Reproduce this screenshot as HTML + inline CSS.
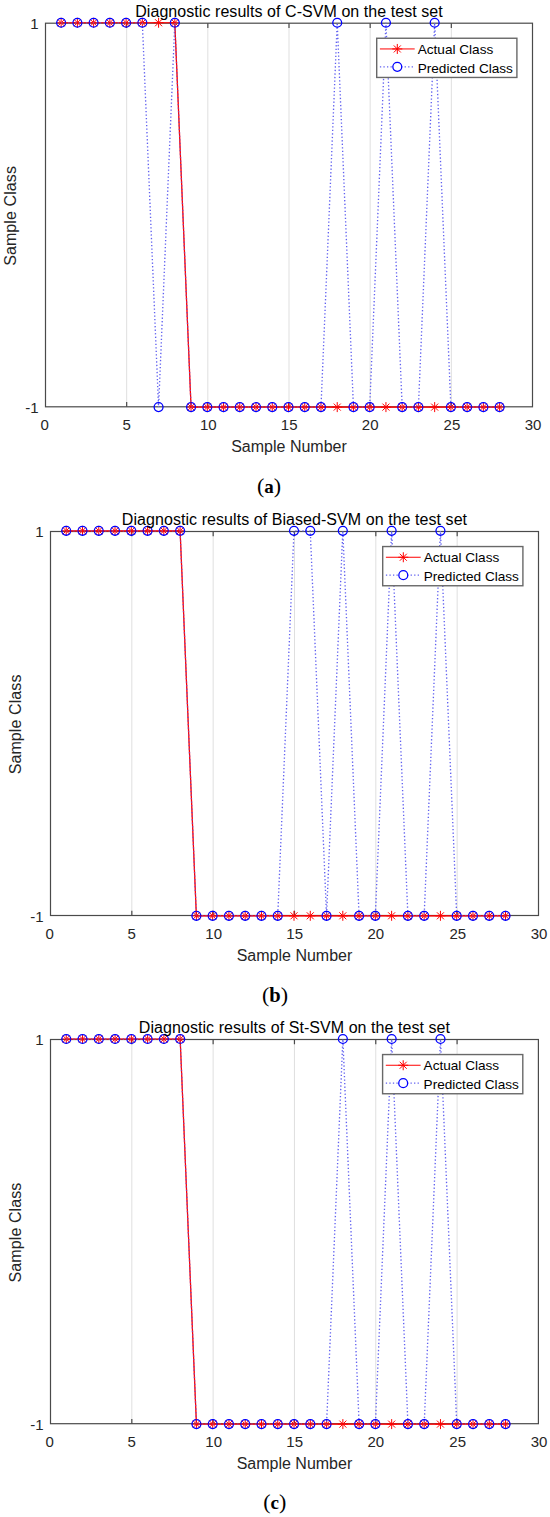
<!DOCTYPE html>
<html><head><meta charset="utf-8"><title>Diagnostic results</title><style>
html,body{margin:0;padding:0;background:#fff;}
svg{display:block;}
text{font-family:'Liberation Sans', sans-serif;}
</style></head><body>
<svg width="550" height="1517" viewBox="0 0 550 1517">
<rect width="550" height="1517" fill="#fff"/>
<line x1="126.67" y1="23.2" x2="126.67" y2="406.8" stroke="#dfdfdf" stroke-width="1"/>
<line x1="207.83" y1="23.2" x2="207.83" y2="406.8" stroke="#dfdfdf" stroke-width="1"/>
<line x1="289" y1="23.2" x2="289" y2="406.8" stroke="#dfdfdf" stroke-width="1"/>
<line x1="370.17" y1="23.2" x2="370.17" y2="406.8" stroke="#dfdfdf" stroke-width="1"/>
<line x1="451.33" y1="23.2" x2="451.33" y2="406.8" stroke="#dfdfdf" stroke-width="1"/>
<path d="M126.67 406.8V402M126.67 23.2V28M207.83 406.8V402M207.83 23.2V28M289 406.8V402M289 23.2V28M370.17 406.8V402M370.17 23.2V28M451.33 406.8V402M451.33 23.2V28" stroke="#4a4a4a" stroke-width="1.2" fill="none"/>
<rect x="45.5" y="23.2" width="487" height="383.6" fill="none" stroke="#4a4a4a" stroke-width="1.2"/>
<polyline points="61.14,22.75 77.38,22.75 93.62,22.75 109.86,22.75 126.1,22.75 142.34,22.75 158.58,22.75 174.82,22.75 191.06,407.1 207.3,407.1 223.54,407.1 239.78,407.1 256.02,407.1 272.26,407.1 288.5,407.1 304.74,407.1 320.98,407.1 337.22,407.1 353.46,407.1 369.7,407.1 385.94,407.1 402.18,407.1 418.42,407.1 434.66,407.1 450.9,407.1 467.14,407.1 483.38,407.1 499.62,407.1" fill="none" stroke="#ff0000" stroke-width="1.2"/>
<path d="M56.14 22.75H66.14M61.14 17.75V27.75M57.64 19.25L64.64 26.25M57.64 26.25L64.64 19.25M72.38 22.75H82.38M77.38 17.75V27.75M73.88 19.25L80.88 26.25M73.88 26.25L80.88 19.25M88.62 22.75H98.62M93.62 17.75V27.75M90.12 19.25L97.12 26.25M90.12 26.25L97.12 19.25M104.86 22.75H114.86M109.86 17.75V27.75M106.36 19.25L113.36 26.25M106.36 26.25L113.36 19.25M121.1 22.75H131.1M126.1 17.75V27.75M122.6 19.25L129.6 26.25M122.6 26.25L129.6 19.25M137.34 22.75H147.34M142.34 17.75V27.75M138.84 19.25L145.84 26.25M138.84 26.25L145.84 19.25M153.58 22.75H163.58M158.58 17.75V27.75M155.08 19.25L162.08 26.25M155.08 26.25L162.08 19.25M169.82 22.75H179.82M174.82 17.75V27.75M171.32 19.25L178.32 26.25M171.32 26.25L178.32 19.25M186.06 407.1H196.06M191.06 402.1V412.1M187.56 403.6L194.56 410.6M187.56 410.6L194.56 403.6M202.3 407.1H212.3M207.3 402.1V412.1M203.8 403.6L210.8 410.6M203.8 410.6L210.8 403.6M218.54 407.1H228.54M223.54 402.1V412.1M220.04 403.6L227.04 410.6M220.04 410.6L227.04 403.6M234.78 407.1H244.78M239.78 402.1V412.1M236.28 403.6L243.28 410.6M236.28 410.6L243.28 403.6M251.02 407.1H261.02M256.02 402.1V412.1M252.52 403.6L259.52 410.6M252.52 410.6L259.52 403.6M267.26 407.1H277.26M272.26 402.1V412.1M268.76 403.6L275.76 410.6M268.76 410.6L275.76 403.6M283.5 407.1H293.5M288.5 402.1V412.1M285 403.6L292 410.6M285 410.6L292 403.6M299.74 407.1H309.74M304.74 402.1V412.1M301.24 403.6L308.24 410.6M301.24 410.6L308.24 403.6M315.98 407.1H325.98M320.98 402.1V412.1M317.48 403.6L324.48 410.6M317.48 410.6L324.48 403.6M332.22 407.1H342.22M337.22 402.1V412.1M333.72 403.6L340.72 410.6M333.72 410.6L340.72 403.6M348.46 407.1H358.46M353.46 402.1V412.1M349.96 403.6L356.96 410.6M349.96 410.6L356.96 403.6M364.7 407.1H374.7M369.7 402.1V412.1M366.2 403.6L373.2 410.6M366.2 410.6L373.2 403.6M380.94 407.1H390.94M385.94 402.1V412.1M382.44 403.6L389.44 410.6M382.44 410.6L389.44 403.6M397.18 407.1H407.18M402.18 402.1V412.1M398.68 403.6L405.68 410.6M398.68 410.6L405.68 403.6M413.42 407.1H423.42M418.42 402.1V412.1M414.92 403.6L421.92 410.6M414.92 410.6L421.92 403.6M429.66 407.1H439.66M434.66 402.1V412.1M431.16 403.6L438.16 410.6M431.16 410.6L438.16 403.6M445.9 407.1H455.9M450.9 402.1V412.1M447.4 403.6L454.4 410.6M447.4 410.6L454.4 403.6M462.14 407.1H472.14M467.14 402.1V412.1M463.64 403.6L470.64 410.6M463.64 410.6L470.64 403.6M478.38 407.1H488.38M483.38 402.1V412.1M479.88 403.6L486.88 410.6M479.88 410.6L486.88 403.6M494.62 407.1H504.62M499.62 402.1V412.1M496.12 403.6L503.12 410.6M496.12 410.6L503.12 403.6" stroke="#ff0000" stroke-width="1" fill="none"/>
<polyline points="61.14,22.75 77.38,22.75 93.62,22.75 109.86,22.75 126.1,22.75 142.34,22.75 158.58,407.1 174.82,22.75 191.06,407.1 207.3,407.1 223.54,407.1 239.78,407.1 256.02,407.1 272.26,407.1 288.5,407.1 304.74,407.1 320.98,407.1 337.22,22.75 353.46,407.1 369.7,407.1 385.94,22.75 402.18,407.1 418.42,407.1 434.66,22.75 450.9,407.1 467.14,407.1 483.38,407.1 499.62,407.1" fill="none" stroke="#6060f0" stroke-width="1.35" stroke-dasharray="1.3 2.23"/>
<circle cx="61.14" cy="22.75" r="4.45" fill="none" stroke="#0000ff" stroke-width="1.3"/>
<circle cx="77.38" cy="22.75" r="4.45" fill="none" stroke="#0000ff" stroke-width="1.3"/>
<circle cx="93.62" cy="22.75" r="4.45" fill="none" stroke="#0000ff" stroke-width="1.3"/>
<circle cx="109.86" cy="22.75" r="4.45" fill="none" stroke="#0000ff" stroke-width="1.3"/>
<circle cx="126.1" cy="22.75" r="4.45" fill="none" stroke="#0000ff" stroke-width="1.3"/>
<circle cx="142.34" cy="22.75" r="4.45" fill="none" stroke="#0000ff" stroke-width="1.3"/>
<circle cx="158.58" cy="407.1" r="4.45" fill="none" stroke="#0000ff" stroke-width="1.3"/>
<circle cx="174.82" cy="22.75" r="4.45" fill="none" stroke="#0000ff" stroke-width="1.3"/>
<circle cx="191.06" cy="407.1" r="4.45" fill="none" stroke="#0000ff" stroke-width="1.3"/>
<circle cx="207.3" cy="407.1" r="4.45" fill="none" stroke="#0000ff" stroke-width="1.3"/>
<circle cx="223.54" cy="407.1" r="4.45" fill="none" stroke="#0000ff" stroke-width="1.3"/>
<circle cx="239.78" cy="407.1" r="4.45" fill="none" stroke="#0000ff" stroke-width="1.3"/>
<circle cx="256.02" cy="407.1" r="4.45" fill="none" stroke="#0000ff" stroke-width="1.3"/>
<circle cx="272.26" cy="407.1" r="4.45" fill="none" stroke="#0000ff" stroke-width="1.3"/>
<circle cx="288.5" cy="407.1" r="4.45" fill="none" stroke="#0000ff" stroke-width="1.3"/>
<circle cx="304.74" cy="407.1" r="4.45" fill="none" stroke="#0000ff" stroke-width="1.3"/>
<circle cx="320.98" cy="407.1" r="4.45" fill="none" stroke="#0000ff" stroke-width="1.3"/>
<circle cx="337.22" cy="22.75" r="4.45" fill="none" stroke="#0000ff" stroke-width="1.3"/>
<circle cx="353.46" cy="407.1" r="4.45" fill="none" stroke="#0000ff" stroke-width="1.3"/>
<circle cx="369.7" cy="407.1" r="4.45" fill="none" stroke="#0000ff" stroke-width="1.3"/>
<circle cx="385.94" cy="22.75" r="4.45" fill="none" stroke="#0000ff" stroke-width="1.3"/>
<circle cx="402.18" cy="407.1" r="4.45" fill="none" stroke="#0000ff" stroke-width="1.3"/>
<circle cx="418.42" cy="407.1" r="4.45" fill="none" stroke="#0000ff" stroke-width="1.3"/>
<circle cx="434.66" cy="22.75" r="4.45" fill="none" stroke="#0000ff" stroke-width="1.3"/>
<circle cx="450.9" cy="407.1" r="4.45" fill="none" stroke="#0000ff" stroke-width="1.3"/>
<circle cx="467.14" cy="407.1" r="4.45" fill="none" stroke="#0000ff" stroke-width="1.3"/>
<circle cx="483.38" cy="407.1" r="4.45" fill="none" stroke="#0000ff" stroke-width="1.3"/>
<circle cx="499.62" cy="407.1" r="4.45" fill="none" stroke="#0000ff" stroke-width="1.3"/>
<polyline points="61.14,22.75 77.38,22.75 93.62,22.75 109.86,22.75 126.1,22.75 142.34,22.75 158.58,22.75 174.82,22.75 191.06,407.1 207.3,407.1 223.54,407.1 239.78,407.1 256.02,407.1 272.26,407.1 288.5,407.1 304.74,407.1 320.98,407.1 337.22,407.1 353.46,407.1 369.7,407.1 385.94,407.1 402.18,407.1 418.42,407.1 434.66,407.1 450.9,407.1 467.14,407.1 483.38,407.1 499.62,407.1" fill="none" stroke="#ff0000" stroke-width="1.2" stroke-opacity="0.4"/>
<text transform="translate(44.6,430.2) scale(1,1)" text-anchor="middle" font-size="15" fill="#262626">0</text>
<text transform="translate(126.57,430.2) scale(1,1)" text-anchor="middle" font-size="15" fill="#262626">5</text>
<text transform="translate(208.33,430.2) scale(1,1)" text-anchor="middle" font-size="15" fill="#262626">10</text>
<text transform="translate(289.2,430.2) scale(1,1)" text-anchor="middle" font-size="15" fill="#262626">15</text>
<text transform="translate(370.17,430.2) scale(1,1)" text-anchor="middle" font-size="15" fill="#262626">20</text>
<text transform="translate(451.93,430.2) scale(1,1)" text-anchor="middle" font-size="15" fill="#262626">25</text>
<text transform="translate(533.1,430.2) scale(1,1)" text-anchor="middle" font-size="15" fill="#262626">30</text>
<text transform="translate(38.5,28.7) scale(1,1)" text-anchor="end" font-size="15" fill="#262626">1</text>
<text transform="translate(38.5,413.3) scale(1,1)" text-anchor="end" font-size="15" fill="#262626">-1</text>
<text x="289" y="452" text-anchor="middle" font-size="16" fill="#262626">Sample Number</text>
<text transform="translate(16.2,215.9) rotate(-90)" text-anchor="middle" font-size="16" letter-spacing="0.1" fill="#262626">Sample Class</text>
<text x="289" y="16.6" text-anchor="middle" font-size="16" letter-spacing="0.06" fill="#000">Diagnostic results of C-SVM on the test set</text>
<rect x="376.7" y="38.25" width="140.2" height="39.2" fill="#fff" stroke="#686868" stroke-width="1.4"/>
<line x1="379.9" y1="48.95" x2="414.7" y2="48.95" stroke="#ff0000" stroke-width="1"/>
<path d="M392.3 48.95H402.3M397.3 43.95V53.95M393.8 45.45L400.8 52.45M393.8 52.45L400.8 45.45" stroke="#ff0000" stroke-width="1" fill="none"/>
<line x1="379.9" y1="66.85" x2="414.7" y2="66.85" stroke="#6060f0" stroke-width="1.35" stroke-dasharray="1.3 2.23"/>
<circle cx="397.3" cy="66.85" r="4.45" fill="#fff" stroke="#0000ff" stroke-width="1.3"/>
<text x="417.7" y="53.95" font-size="13.6" fill="#000">Actual Class</text>
<text x="417.7" y="72.85" font-size="13.6" fill="#000">Predicted Class</text>
<text x="269" y="492.6" text-anchor="middle" style="font-family:'Liberation Serif', serif;font-size:22px" fill="#000">(<tspan font-weight="bold" style="font-size:19px">a</tspan>)</text>
<line x1="131.83" y1="531.5" x2="131.83" y2="915.5" stroke="#dfdfdf" stroke-width="1"/>
<line x1="213.17" y1="531.5" x2="213.17" y2="915.5" stroke="#dfdfdf" stroke-width="1"/>
<line x1="294.5" y1="531.5" x2="294.5" y2="915.5" stroke="#dfdfdf" stroke-width="1"/>
<line x1="375.83" y1="531.5" x2="375.83" y2="915.5" stroke="#dfdfdf" stroke-width="1"/>
<line x1="457.17" y1="531.5" x2="457.17" y2="915.5" stroke="#dfdfdf" stroke-width="1"/>
<path d="M131.83 915.5V910.7M131.83 531.5V536.3M213.17 915.5V910.7M213.17 531.5V536.3M294.5 915.5V910.7M294.5 531.5V536.3M375.83 915.5V910.7M375.83 531.5V536.3M457.17 915.5V910.7M457.17 531.5V536.3" stroke="#4a4a4a" stroke-width="1.2" fill="none"/>
<rect x="50.5" y="531.5" width="488" height="384" fill="none" stroke="#4a4a4a" stroke-width="1.2"/>
<polyline points="66.22,530.8 82.49,530.8 98.76,530.8 115.03,530.8 131.3,530.8 147.57,530.8 163.84,530.8 180.11,530.8 196.38,915.8 212.65,915.8 228.92,915.8 245.19,915.8 261.46,915.8 277.73,915.8 294,915.8 310.27,915.8 326.54,915.8 342.81,915.8 359.08,915.8 375.35,915.8 391.62,915.8 407.89,915.8 424.16,915.8 440.43,915.8 456.7,915.8 472.97,915.8 489.24,915.8 505.51,915.8" fill="none" stroke="#ff0000" stroke-width="1.2"/>
<path d="M61.22 530.8H71.22M66.22 525.8V535.8M62.72 527.3L69.72 534.3M62.72 534.3L69.72 527.3M77.49 530.8H87.49M82.49 525.8V535.8M78.99 527.3L85.99 534.3M78.99 534.3L85.99 527.3M93.76 530.8H103.76M98.76 525.8V535.8M95.26 527.3L102.26 534.3M95.26 534.3L102.26 527.3M110.03 530.8H120.03M115.03 525.8V535.8M111.53 527.3L118.53 534.3M111.53 534.3L118.53 527.3M126.3 530.8H136.3M131.3 525.8V535.8M127.8 527.3L134.8 534.3M127.8 534.3L134.8 527.3M142.57 530.8H152.57M147.57 525.8V535.8M144.07 527.3L151.07 534.3M144.07 534.3L151.07 527.3M158.84 530.8H168.84M163.84 525.8V535.8M160.34 527.3L167.34 534.3M160.34 534.3L167.34 527.3M175.11 530.8H185.11M180.11 525.8V535.8M176.61 527.3L183.61 534.3M176.61 534.3L183.61 527.3M191.38 915.8H201.38M196.38 910.8V920.8M192.88 912.3L199.88 919.3M192.88 919.3L199.88 912.3M207.65 915.8H217.65M212.65 910.8V920.8M209.15 912.3L216.15 919.3M209.15 919.3L216.15 912.3M223.92 915.8H233.92M228.92 910.8V920.8M225.42 912.3L232.42 919.3M225.42 919.3L232.42 912.3M240.19 915.8H250.19M245.19 910.8V920.8M241.69 912.3L248.69 919.3M241.69 919.3L248.69 912.3M256.46 915.8H266.46M261.46 910.8V920.8M257.96 912.3L264.96 919.3M257.96 919.3L264.96 912.3M272.73 915.8H282.73M277.73 910.8V920.8M274.23 912.3L281.23 919.3M274.23 919.3L281.23 912.3M289 915.8H299M294 910.8V920.8M290.5 912.3L297.5 919.3M290.5 919.3L297.5 912.3M305.27 915.8H315.27M310.27 910.8V920.8M306.77 912.3L313.77 919.3M306.77 919.3L313.77 912.3M321.54 915.8H331.54M326.54 910.8V920.8M323.04 912.3L330.04 919.3M323.04 919.3L330.04 912.3M337.81 915.8H347.81M342.81 910.8V920.8M339.31 912.3L346.31 919.3M339.31 919.3L346.31 912.3M354.08 915.8H364.08M359.08 910.8V920.8M355.58 912.3L362.58 919.3M355.58 919.3L362.58 912.3M370.35 915.8H380.35M375.35 910.8V920.8M371.85 912.3L378.85 919.3M371.85 919.3L378.85 912.3M386.62 915.8H396.62M391.62 910.8V920.8M388.12 912.3L395.12 919.3M388.12 919.3L395.12 912.3M402.89 915.8H412.89M407.89 910.8V920.8M404.39 912.3L411.39 919.3M404.39 919.3L411.39 912.3M419.16 915.8H429.16M424.16 910.8V920.8M420.66 912.3L427.66 919.3M420.66 919.3L427.66 912.3M435.43 915.8H445.43M440.43 910.8V920.8M436.93 912.3L443.93 919.3M436.93 919.3L443.93 912.3M451.7 915.8H461.7M456.7 910.8V920.8M453.2 912.3L460.2 919.3M453.2 919.3L460.2 912.3M467.97 915.8H477.97M472.97 910.8V920.8M469.47 912.3L476.47 919.3M469.47 919.3L476.47 912.3M484.24 915.8H494.24M489.24 910.8V920.8M485.74 912.3L492.74 919.3M485.74 919.3L492.74 912.3M500.51 915.8H510.51M505.51 910.8V920.8M502.01 912.3L509.01 919.3M502.01 919.3L509.01 912.3" stroke="#ff0000" stroke-width="1" fill="none"/>
<polyline points="66.22,530.8 82.49,530.8 98.76,530.8 115.03,530.8 131.3,530.8 147.57,530.8 163.84,530.8 180.11,530.8 196.38,915.8 212.65,915.8 228.92,915.8 245.19,915.8 261.46,915.8 277.73,915.8 294,530.8 310.27,530.8 326.54,915.8 342.81,530.8 359.08,915.8 375.35,915.8 391.62,530.8 407.89,915.8 424.16,915.8 440.43,530.8 456.7,915.8 472.97,915.8 489.24,915.8 505.51,915.8" fill="none" stroke="#6060f0" stroke-width="1.35" stroke-dasharray="1.3 2.23"/>
<circle cx="66.22" cy="530.8" r="4.45" fill="none" stroke="#0000ff" stroke-width="1.3"/>
<circle cx="82.49" cy="530.8" r="4.45" fill="none" stroke="#0000ff" stroke-width="1.3"/>
<circle cx="98.76" cy="530.8" r="4.45" fill="none" stroke="#0000ff" stroke-width="1.3"/>
<circle cx="115.03" cy="530.8" r="4.45" fill="none" stroke="#0000ff" stroke-width="1.3"/>
<circle cx="131.3" cy="530.8" r="4.45" fill="none" stroke="#0000ff" stroke-width="1.3"/>
<circle cx="147.57" cy="530.8" r="4.45" fill="none" stroke="#0000ff" stroke-width="1.3"/>
<circle cx="163.84" cy="530.8" r="4.45" fill="none" stroke="#0000ff" stroke-width="1.3"/>
<circle cx="180.11" cy="530.8" r="4.45" fill="none" stroke="#0000ff" stroke-width="1.3"/>
<circle cx="196.38" cy="915.8" r="4.45" fill="none" stroke="#0000ff" stroke-width="1.3"/>
<circle cx="212.65" cy="915.8" r="4.45" fill="none" stroke="#0000ff" stroke-width="1.3"/>
<circle cx="228.92" cy="915.8" r="4.45" fill="none" stroke="#0000ff" stroke-width="1.3"/>
<circle cx="245.19" cy="915.8" r="4.45" fill="none" stroke="#0000ff" stroke-width="1.3"/>
<circle cx="261.46" cy="915.8" r="4.45" fill="none" stroke="#0000ff" stroke-width="1.3"/>
<circle cx="277.73" cy="915.8" r="4.45" fill="none" stroke="#0000ff" stroke-width="1.3"/>
<circle cx="294" cy="530.8" r="4.45" fill="none" stroke="#0000ff" stroke-width="1.3"/>
<circle cx="310.27" cy="530.8" r="4.45" fill="none" stroke="#0000ff" stroke-width="1.3"/>
<circle cx="326.54" cy="915.8" r="4.45" fill="none" stroke="#0000ff" stroke-width="1.3"/>
<circle cx="342.81" cy="530.8" r="4.45" fill="none" stroke="#0000ff" stroke-width="1.3"/>
<circle cx="359.08" cy="915.8" r="4.45" fill="none" stroke="#0000ff" stroke-width="1.3"/>
<circle cx="375.35" cy="915.8" r="4.45" fill="none" stroke="#0000ff" stroke-width="1.3"/>
<circle cx="391.62" cy="530.8" r="4.45" fill="none" stroke="#0000ff" stroke-width="1.3"/>
<circle cx="407.89" cy="915.8" r="4.45" fill="none" stroke="#0000ff" stroke-width="1.3"/>
<circle cx="424.16" cy="915.8" r="4.45" fill="none" stroke="#0000ff" stroke-width="1.3"/>
<circle cx="440.43" cy="530.8" r="4.45" fill="none" stroke="#0000ff" stroke-width="1.3"/>
<circle cx="456.7" cy="915.8" r="4.45" fill="none" stroke="#0000ff" stroke-width="1.3"/>
<circle cx="472.97" cy="915.8" r="4.45" fill="none" stroke="#0000ff" stroke-width="1.3"/>
<circle cx="489.24" cy="915.8" r="4.45" fill="none" stroke="#0000ff" stroke-width="1.3"/>
<circle cx="505.51" cy="915.8" r="4.45" fill="none" stroke="#0000ff" stroke-width="1.3"/>
<polyline points="66.22,530.8 82.49,530.8 98.76,530.8 115.03,530.8 131.3,530.8 147.57,530.8 163.84,530.8 180.11,530.8 196.38,915.8 212.65,915.8 228.92,915.8 245.19,915.8 261.46,915.8 277.73,915.8 294,915.8 310.27,915.8 326.54,915.8 342.81,915.8 359.08,915.8 375.35,915.8 391.62,915.8 407.89,915.8 424.16,915.8 440.43,915.8 456.7,915.8 472.97,915.8 489.24,915.8 505.51,915.8" fill="none" stroke="#ff0000" stroke-width="1.2" stroke-opacity="0.4"/>
<text transform="translate(49.6,938.9) scale(1,1)" text-anchor="middle" font-size="15" fill="#262626">0</text>
<text transform="translate(131.73,938.9) scale(1,1)" text-anchor="middle" font-size="15" fill="#262626">5</text>
<text transform="translate(213.67,938.9) scale(1,1)" text-anchor="middle" font-size="15" fill="#262626">10</text>
<text transform="translate(294.7,938.9) scale(1,1)" text-anchor="middle" font-size="15" fill="#262626">15</text>
<text transform="translate(375.83,938.9) scale(1,1)" text-anchor="middle" font-size="15" fill="#262626">20</text>
<text transform="translate(457.77,938.9) scale(1,1)" text-anchor="middle" font-size="15" fill="#262626">25</text>
<text transform="translate(539.1,938.9) scale(1,1)" text-anchor="middle" font-size="15" fill="#262626">30</text>
<text transform="translate(43.5,537) scale(1,1)" text-anchor="end" font-size="15" fill="#262626">1</text>
<text transform="translate(43.5,922) scale(1,1)" text-anchor="end" font-size="15" fill="#262626">-1</text>
<text x="294.5" y="960.7" text-anchor="middle" font-size="16" fill="#262626">Sample Number</text>
<text transform="translate(21.2,724.4) rotate(-90)" text-anchor="middle" font-size="16" letter-spacing="0.1" fill="#262626">Sample Class</text>
<text x="294.5" y="524.9" text-anchor="middle" font-size="16" letter-spacing="0.06" fill="#000">Diagnostic results of Biased-SVM on the test set</text>
<rect x="382.7" y="546.55" width="140.2" height="39.2" fill="#fff" stroke="#686868" stroke-width="1.4"/>
<line x1="385.9" y1="557.25" x2="420.7" y2="557.25" stroke="#ff0000" stroke-width="1"/>
<path d="M398.3 557.25H408.3M403.3 552.25V562.25M399.8 553.75L406.8 560.75M399.8 560.75L406.8 553.75" stroke="#ff0000" stroke-width="1" fill="none"/>
<line x1="385.9" y1="575.15" x2="420.7" y2="575.15" stroke="#6060f0" stroke-width="1.35" stroke-dasharray="1.3 2.23"/>
<circle cx="403.3" cy="575.15" r="4.45" fill="#fff" stroke="#0000ff" stroke-width="1.3"/>
<text x="423.7" y="562.25" font-size="13.6" fill="#000">Actual Class</text>
<text x="423.7" y="581.15" font-size="13.6" fill="#000">Predicted Class</text>
<text x="275" y="1001.8" text-anchor="middle" style="font-family:'Liberation Serif', serif;font-size:22px" fill="#000">(<tspan font-weight="bold" style="font-size:20.5px">b</tspan>)</text>
<line x1="131.82" y1="1039.5" x2="131.82" y2="1423.7" stroke="#dfdfdf" stroke-width="1"/>
<line x1="213.13" y1="1039.5" x2="213.13" y2="1423.7" stroke="#dfdfdf" stroke-width="1"/>
<line x1="294.45" y1="1039.5" x2="294.45" y2="1423.7" stroke="#dfdfdf" stroke-width="1"/>
<line x1="375.77" y1="1039.5" x2="375.77" y2="1423.7" stroke="#dfdfdf" stroke-width="1"/>
<line x1="457.08" y1="1039.5" x2="457.08" y2="1423.7" stroke="#dfdfdf" stroke-width="1"/>
<path d="M131.82 1423.7V1418.9M131.82 1039.5V1044.3M213.13 1423.7V1418.9M213.13 1039.5V1044.3M294.45 1423.7V1418.9M294.45 1039.5V1044.3M375.77 1423.7V1418.9M375.77 1039.5V1044.3M457.08 1423.7V1418.9M457.08 1039.5V1044.3" stroke="#4a4a4a" stroke-width="1.2" fill="none"/>
<rect x="50.5" y="1039.5" width="487.9" height="384.2" fill="none" stroke="#4a4a4a" stroke-width="1.2"/>
<polyline points="66.27,1039 82.54,1039 98.81,1039 115.08,1039 131.35,1039 147.62,1039 163.89,1039 180.16,1039 196.43,1424.1 212.7,1424.1 228.97,1424.1 245.24,1424.1 261.51,1424.1 277.78,1424.1 294.05,1424.1 310.32,1424.1 326.59,1424.1 342.86,1424.1 359.13,1424.1 375.4,1424.1 391.67,1424.1 407.94,1424.1 424.21,1424.1 440.48,1424.1 456.75,1424.1 473.02,1424.1 489.29,1424.1 505.56,1424.1" fill="none" stroke="#ff0000" stroke-width="1.2"/>
<path d="M61.27 1039H71.27M66.27 1034V1044M62.77 1035.5L69.77 1042.5M62.77 1042.5L69.77 1035.5M77.54 1039H87.54M82.54 1034V1044M79.04 1035.5L86.04 1042.5M79.04 1042.5L86.04 1035.5M93.81 1039H103.81M98.81 1034V1044M95.31 1035.5L102.31 1042.5M95.31 1042.5L102.31 1035.5M110.08 1039H120.08M115.08 1034V1044M111.58 1035.5L118.58 1042.5M111.58 1042.5L118.58 1035.5M126.35 1039H136.35M131.35 1034V1044M127.85 1035.5L134.85 1042.5M127.85 1042.5L134.85 1035.5M142.62 1039H152.62M147.62 1034V1044M144.12 1035.5L151.12 1042.5M144.12 1042.5L151.12 1035.5M158.89 1039H168.89M163.89 1034V1044M160.39 1035.5L167.39 1042.5M160.39 1042.5L167.39 1035.5M175.16 1039H185.16M180.16 1034V1044M176.66 1035.5L183.66 1042.5M176.66 1042.5L183.66 1035.5M191.43 1424.1H201.43M196.43 1419.1V1429.1M192.93 1420.6L199.93 1427.6M192.93 1427.6L199.93 1420.6M207.7 1424.1H217.7M212.7 1419.1V1429.1M209.2 1420.6L216.2 1427.6M209.2 1427.6L216.2 1420.6M223.97 1424.1H233.97M228.97 1419.1V1429.1M225.47 1420.6L232.47 1427.6M225.47 1427.6L232.47 1420.6M240.24 1424.1H250.24M245.24 1419.1V1429.1M241.74 1420.6L248.74 1427.6M241.74 1427.6L248.74 1420.6M256.51 1424.1H266.51M261.51 1419.1V1429.1M258.01 1420.6L265.01 1427.6M258.01 1427.6L265.01 1420.6M272.78 1424.1H282.78M277.78 1419.1V1429.1M274.28 1420.6L281.28 1427.6M274.28 1427.6L281.28 1420.6M289.05 1424.1H299.05M294.05 1419.1V1429.1M290.55 1420.6L297.55 1427.6M290.55 1427.6L297.55 1420.6M305.32 1424.1H315.32M310.32 1419.1V1429.1M306.82 1420.6L313.82 1427.6M306.82 1427.6L313.82 1420.6M321.59 1424.1H331.59M326.59 1419.1V1429.1M323.09 1420.6L330.09 1427.6M323.09 1427.6L330.09 1420.6M337.86 1424.1H347.86M342.86 1419.1V1429.1M339.36 1420.6L346.36 1427.6M339.36 1427.6L346.36 1420.6M354.13 1424.1H364.13M359.13 1419.1V1429.1M355.63 1420.6L362.63 1427.6M355.63 1427.6L362.63 1420.6M370.4 1424.1H380.4M375.4 1419.1V1429.1M371.9 1420.6L378.9 1427.6M371.9 1427.6L378.9 1420.6M386.67 1424.1H396.67M391.67 1419.1V1429.1M388.17 1420.6L395.17 1427.6M388.17 1427.6L395.17 1420.6M402.94 1424.1H412.94M407.94 1419.1V1429.1M404.44 1420.6L411.44 1427.6M404.44 1427.6L411.44 1420.6M419.21 1424.1H429.21M424.21 1419.1V1429.1M420.71 1420.6L427.71 1427.6M420.71 1427.6L427.71 1420.6M435.48 1424.1H445.48M440.48 1419.1V1429.1M436.98 1420.6L443.98 1427.6M436.98 1427.6L443.98 1420.6M451.75 1424.1H461.75M456.75 1419.1V1429.1M453.25 1420.6L460.25 1427.6M453.25 1427.6L460.25 1420.6M468.02 1424.1H478.02M473.02 1419.1V1429.1M469.52 1420.6L476.52 1427.6M469.52 1427.6L476.52 1420.6M484.29 1424.1H494.29M489.29 1419.1V1429.1M485.79 1420.6L492.79 1427.6M485.79 1427.6L492.79 1420.6M500.56 1424.1H510.56M505.56 1419.1V1429.1M502.06 1420.6L509.06 1427.6M502.06 1427.6L509.06 1420.6" stroke="#ff0000" stroke-width="1" fill="none"/>
<polyline points="66.27,1039 82.54,1039 98.81,1039 115.08,1039 131.35,1039 147.62,1039 163.89,1039 180.16,1039 196.43,1424.1 212.7,1424.1 228.97,1424.1 245.24,1424.1 261.51,1424.1 277.78,1424.1 294.05,1424.1 310.32,1424.1 326.59,1424.1 342.86,1039 359.13,1424.1 375.4,1424.1 391.67,1039 407.94,1424.1 424.21,1424.1 440.48,1039 456.75,1424.1 473.02,1424.1 489.29,1424.1 505.56,1424.1" fill="none" stroke="#6060f0" stroke-width="1.35" stroke-dasharray="1.3 2.23"/>
<circle cx="66.27" cy="1039" r="4.45" fill="none" stroke="#0000ff" stroke-width="1.3"/>
<circle cx="82.54" cy="1039" r="4.45" fill="none" stroke="#0000ff" stroke-width="1.3"/>
<circle cx="98.81" cy="1039" r="4.45" fill="none" stroke="#0000ff" stroke-width="1.3"/>
<circle cx="115.08" cy="1039" r="4.45" fill="none" stroke="#0000ff" stroke-width="1.3"/>
<circle cx="131.35" cy="1039" r="4.45" fill="none" stroke="#0000ff" stroke-width="1.3"/>
<circle cx="147.62" cy="1039" r="4.45" fill="none" stroke="#0000ff" stroke-width="1.3"/>
<circle cx="163.89" cy="1039" r="4.45" fill="none" stroke="#0000ff" stroke-width="1.3"/>
<circle cx="180.16" cy="1039" r="4.45" fill="none" stroke="#0000ff" stroke-width="1.3"/>
<circle cx="196.43" cy="1424.1" r="4.45" fill="none" stroke="#0000ff" stroke-width="1.3"/>
<circle cx="212.7" cy="1424.1" r="4.45" fill="none" stroke="#0000ff" stroke-width="1.3"/>
<circle cx="228.97" cy="1424.1" r="4.45" fill="none" stroke="#0000ff" stroke-width="1.3"/>
<circle cx="245.24" cy="1424.1" r="4.45" fill="none" stroke="#0000ff" stroke-width="1.3"/>
<circle cx="261.51" cy="1424.1" r="4.45" fill="none" stroke="#0000ff" stroke-width="1.3"/>
<circle cx="277.78" cy="1424.1" r="4.45" fill="none" stroke="#0000ff" stroke-width="1.3"/>
<circle cx="294.05" cy="1424.1" r="4.45" fill="none" stroke="#0000ff" stroke-width="1.3"/>
<circle cx="310.32" cy="1424.1" r="4.45" fill="none" stroke="#0000ff" stroke-width="1.3"/>
<circle cx="326.59" cy="1424.1" r="4.45" fill="none" stroke="#0000ff" stroke-width="1.3"/>
<circle cx="342.86" cy="1039" r="4.45" fill="none" stroke="#0000ff" stroke-width="1.3"/>
<circle cx="359.13" cy="1424.1" r="4.45" fill="none" stroke="#0000ff" stroke-width="1.3"/>
<circle cx="375.4" cy="1424.1" r="4.45" fill="none" stroke="#0000ff" stroke-width="1.3"/>
<circle cx="391.67" cy="1039" r="4.45" fill="none" stroke="#0000ff" stroke-width="1.3"/>
<circle cx="407.94" cy="1424.1" r="4.45" fill="none" stroke="#0000ff" stroke-width="1.3"/>
<circle cx="424.21" cy="1424.1" r="4.45" fill="none" stroke="#0000ff" stroke-width="1.3"/>
<circle cx="440.48" cy="1039" r="4.45" fill="none" stroke="#0000ff" stroke-width="1.3"/>
<circle cx="456.75" cy="1424.1" r="4.45" fill="none" stroke="#0000ff" stroke-width="1.3"/>
<circle cx="473.02" cy="1424.1" r="4.45" fill="none" stroke="#0000ff" stroke-width="1.3"/>
<circle cx="489.29" cy="1424.1" r="4.45" fill="none" stroke="#0000ff" stroke-width="1.3"/>
<circle cx="505.56" cy="1424.1" r="4.45" fill="none" stroke="#0000ff" stroke-width="1.3"/>
<polyline points="66.27,1039 82.54,1039 98.81,1039 115.08,1039 131.35,1039 147.62,1039 163.89,1039 180.16,1039 196.43,1424.1 212.7,1424.1 228.97,1424.1 245.24,1424.1 261.51,1424.1 277.78,1424.1 294.05,1424.1 310.32,1424.1 326.59,1424.1 342.86,1424.1 359.13,1424.1 375.4,1424.1 391.67,1424.1 407.94,1424.1 424.21,1424.1 440.48,1424.1 456.75,1424.1 473.02,1424.1 489.29,1424.1 505.56,1424.1" fill="none" stroke="#ff0000" stroke-width="1.2" stroke-opacity="0.4"/>
<text transform="translate(49.6,1447.1) scale(1,1)" text-anchor="middle" font-size="15" fill="#262626">0</text>
<text transform="translate(131.72,1447.1) scale(1,1)" text-anchor="middle" font-size="15" fill="#262626">5</text>
<text transform="translate(213.63,1447.1) scale(1,1)" text-anchor="middle" font-size="15" fill="#262626">10</text>
<text transform="translate(294.65,1447.1) scale(1,1)" text-anchor="middle" font-size="15" fill="#262626">15</text>
<text transform="translate(375.77,1447.1) scale(1,1)" text-anchor="middle" font-size="15" fill="#262626">20</text>
<text transform="translate(457.68,1447.1) scale(1,1)" text-anchor="middle" font-size="15" fill="#262626">25</text>
<text transform="translate(539,1447.1) scale(1,1)" text-anchor="middle" font-size="15" fill="#262626">30</text>
<text transform="translate(43.5,1045) scale(1,1)" text-anchor="end" font-size="15" fill="#262626">1</text>
<text transform="translate(43.5,1430.2) scale(1,1)" text-anchor="end" font-size="15" fill="#262626">-1</text>
<text x="294.45" y="1468.9" text-anchor="middle" font-size="16" fill="#262626">Sample Number</text>
<text transform="translate(21.2,1232.5) rotate(-90)" text-anchor="middle" font-size="16" letter-spacing="0.1" fill="#262626">Sample Class</text>
<text x="294.45" y="1032.9" text-anchor="middle" font-size="16" letter-spacing="0.06" fill="#000">Diagnostic results of St-SVM on the test set</text>
<rect x="382.6" y="1054.55" width="140.2" height="39.2" fill="#fff" stroke="#686868" stroke-width="1.4"/>
<line x1="385.8" y1="1065.25" x2="420.6" y2="1065.25" stroke="#ff0000" stroke-width="1"/>
<path d="M398.2 1065.25H408.2M403.2 1060.25V1070.25M399.7 1061.75L406.7 1068.75M399.7 1068.75L406.7 1061.75" stroke="#ff0000" stroke-width="1" fill="none"/>
<line x1="385.8" y1="1083.15" x2="420.6" y2="1083.15" stroke="#6060f0" stroke-width="1.35" stroke-dasharray="1.3 2.23"/>
<circle cx="403.2" cy="1083.15" r="4.45" fill="#fff" stroke="#0000ff" stroke-width="1.3"/>
<text x="423.6" y="1070.25" font-size="13.6" fill="#000">Actual Class</text>
<text x="423.6" y="1089.15" font-size="13.6" fill="#000">Predicted Class</text>
<text x="274.7" y="1508.8" text-anchor="middle" style="font-family:'Liberation Serif', serif;font-size:22px" fill="#000">(<tspan font-weight="bold" style="font-size:19px">c</tspan>)</text>
</svg>
</body></html>
